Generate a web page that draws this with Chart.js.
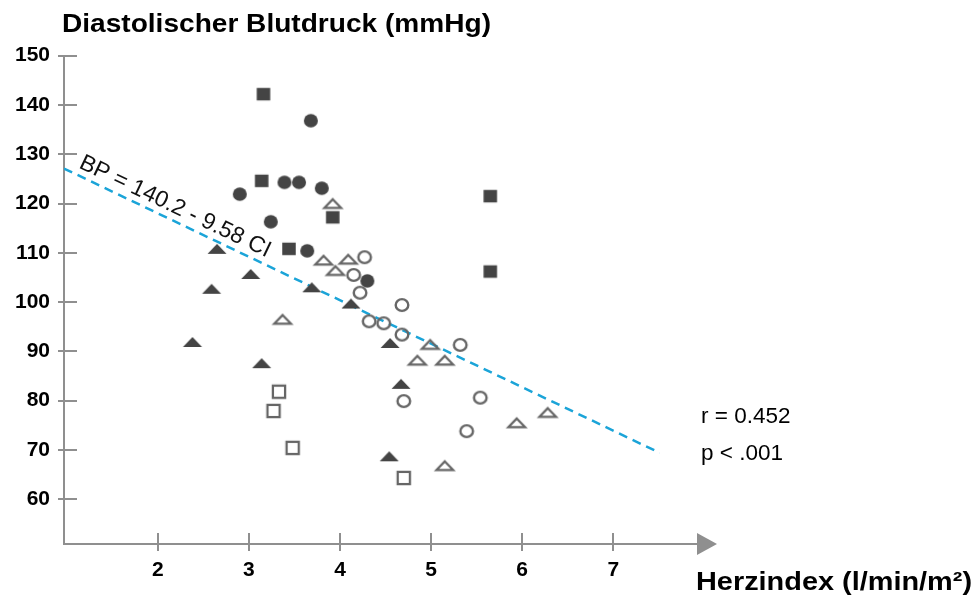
<!DOCTYPE html>
<html>
<head>
<meta charset="utf-8">
<script src="https://cdn.jsdelivr.net/npm/chart.js@4.4.1/dist/chart.umd.min.js"></script>
<style>
  html, body { margin: 0; padding: 0; background: #fff; }
  canvas { display: block; }
</style>
</head>
<body>
<canvas id="chart" width="975" height="601"></canvas>
<script>
// Herzindex (x) and diastolic pressure (y) for each marker group
const filledSquaresX = [3.16, 3.14, 3.92, 3.44, 5.65, 5.65];
const filledSquaresY = [142.2, 124.6, 117.2, 110.8, 121.5, 106.2];

const filledCirclesX = [3.68, 2.90, 3.39, 3.55, 3.80, 3.24, 3.64, 4.30];
const filledCirclesY = [136.8, 121.9, 124.3, 124.3, 123.1, 116.3, 110.4, 104.3];

const filledTrianglesX = [2.65, 3.02, 2.59, 2.38, 3.14, 3.69, 4.12, 4.55, 4.67, 4.54];
const filledTrianglesY = [110.8, 105.7, 102.7, 91.9, 87.6, 103.0, 99.7, 91.7, 83.4, 68.7];

const openSquaresX = [3.33, 3.27, 3.48, 4.70];
const openSquaresY = [81.8, 77.9, 70.4, 64.3];

const openCirclesX = [4.27, 4.15, 4.22, 4.32, 4.48, 4.68, 4.68, 5.32, 4.70, 5.54, 5.39];
const openCirclesY = [109.1, 105.5, 101.9, 96.1, 95.7, 99.4, 93.4, 91.3, 79.9, 80.6, 73.8];

const openTrianglesX = [3.92, 3.82, 4.09, 3.95, 3.37, 4.99, 4.85, 5.15, 5.94, 6.28, 5.15];
const openTrianglesY = [120.0, 108.5, 108.7, 106.4, 96.5, 91.4, 88.2, 88.2, 75.5, 77.6, 66.8];

// regression line as drawn
const fitX = [0.97, 7.51];
const fitY = [127.1, 69.4];

const xTicks = [2, 3, 4, 5, 6, 7];
const yTicks = [60, 70, 80, 90, 100, 110, 120, 130, 140, 150];

const axisColor = '#8f8f8f';
const darkMark = '#444444';
const openMark = '#666666';

function toPoints(xs, ys) {
    return xs.map((v, i) => ({ x: v, y: ys[i] }));
}

// small canvases used as point styles
function makeMarker(w, h, draw) {
    const c = document.createElement('canvas');
    c.width = 2 * Math.ceil((w + 4) / 2);
    c.height = 2 * Math.ceil((h + 4) / 2);
    const g = c.getContext('2d');
    g.translate(c.width / 2, c.height / 2);
    draw(g, w, h);
    return c;
}

const squareFilled = makeMarker(13.5, 12.5, (g, w, h) => {
    g.fillStyle = darkMark;
    g.fillRect(-w / 2, -h / 2, w, h);
});
const circleFilled = makeMarker(14, 13.5, (g, w, h) => {
    g.fillStyle = darkMark;
    g.beginPath();
    g.ellipse(0, 0, w / 2, h / 2, 0, 0, Math.PI * 2);
    g.fill();
});
const triangleFilled = makeMarker(19, 9.8, (g, w, h) => {
    g.fillStyle = darkMark;
    g.beginPath();
    g.moveTo(0, -h / 2);
    g.lineTo(w / 2, h / 2);
    g.lineTo(-w / 2, h / 2);
    g.closePath();
    g.fill();
});
const squareOpen = makeMarker(14.5, 14.5, (g, w, h) => {
    g.strokeStyle = openMark;
    g.lineWidth = 2.3;
    g.strokeRect(-w / 2 + 1.15, -h / 2 + 1.15, w - 2.3, h - 2.3);
});
const circleOpen = makeMarker(15, 14.2, (g, w, h) => {
    g.strokeStyle = openMark;
    g.lineWidth = 2.4;
    g.beginPath();
    g.ellipse(0, 0, w / 2 - 1.2, h / 2 - 1.2, 0, 0, Math.PI * 2);
    g.stroke();
});
const triangleOpen = makeMarker(21, 11, (g, w, h) => {
    g.strokeStyle = openMark;
    g.lineWidth = 2.3;
    g.lineJoin = 'miter';
    g.beginPath();
    g.moveTo(0, -h / 2 + 1.2);
    g.lineTo(w / 2 - 2.2, h / 2 - 1.2);
    g.lineTo(-w / 2 + 2.2, h / 2 - 1.2);
    g.closePath();
    g.stroke();
});

function markerSet(label, xs, ys, style) {
    return {
        label: label,
        data: toPoints(xs, ys),
        pointStyle: style,
        pointRadius: 7,
        pointHoverRadius: 7
    };
}

// text squeezed/stretched to the width measured in the picture
function fitText(ctx, text, x, y, font, width) {
    ctx.font = font;
    const sx = width / ctx.measureText(text).width;
    ctx.save();
    ctx.translate(x, y);
    ctx.scale(sx, 1);
    ctx.fillText(text, 0, 0);
    ctx.restore();
}

const decorations = {
    id: 'decorations',
    afterDraw(chart) {
        const { ctx, chartArea, scales: { x, y } } = chart;
        ctx.save();

        // tick marks crossing the axes
        ctx.strokeStyle = axisColor;
        ctx.lineWidth = 2;
        yTicks.forEach(v => {
            const py = Math.round(y.getPixelForValue(v));
            ctx.beginPath();
            ctx.moveTo(chartArea.left - 6, py);
            ctx.lineTo(chartArea.left + 13, py);
            ctx.stroke();
        });
        xTicks.forEach(v => {
            const px = Math.round(x.getPixelForValue(v));
            ctx.beginPath();
            ctx.moveTo(px, chartArea.bottom - 11);
            ctx.lineTo(px, chartArea.bottom + 7);
            ctx.stroke();
        });

        // arrow head on the x axis
        ctx.fillStyle = axisColor;
        ctx.beginPath();
        ctx.moveTo(chartArea.right - 1, chartArea.bottom - 11);
        ctx.lineTo(chartArea.right + 19, chartArea.bottom);
        ctx.lineTo(chartArea.right - 1, chartArea.bottom + 11);
        ctx.closePath();
        ctx.fill();

        // titles
        ctx.fillStyle = '#000';
        ctx.textAlign = 'left';
        ctx.textBaseline = 'alphabetic';
        fitText(ctx, 'Diastolischer Blutdruck (mmHg)', 62, 32, 'bold 25px "Liberation Sans", Arial, sans-serif', 429);
        fitText(ctx, 'Herzindex (l/min/m²)', 696, 590, 'bold 25px "Liberation Sans", Arial, sans-serif', 276);

        // statistics
        ctx.font = '22.5px "Liberation Sans", Arial, sans-serif';
        ctx.fillText('r = 0.452', 701, 423);
        ctx.fillText('p < .001', 701, 460);

        // equation along the fit line
        const x0 = x.getPixelForValue(fitX[0]), y0 = y.getPixelForValue(fitY[0]);
        const x1 = x.getPixelForValue(fitX[1]), y1 = y.getPixelForValue(fitY[1]);
        const ang = Math.atan2(y1 - y0, x1 - x0);
        const lx = 75;
        const ly = y0 + (lx - x0) * (y1 - y0) / (x1 - x0);
        const sx = lx + Math.sin(ang) * 7;
        const sy = ly - Math.cos(ang) * 7;
        ctx.save();
        ctx.translate(sx, sy);
        ctx.rotate(ang);
        ctx.font = '23px "Liberation Sans", Arial, sans-serif';
        ctx.fillStyle = '#111';
        ctx.fillText('BP = 140.2 - 9.58 CI', 0, 0);
        ctx.restore();

        ctx.restore();
    }
};

const tickFont = { family: '"Liberation Sans", Arial, sans-serif', size: 21, weight: 'bold' };

new Chart(document.getElementById('chart').getContext('2d'), {
    type: 'scatter',
    data: {
        datasets: [
            markerSet('filled squares', filledSquaresX, filledSquaresY, squareFilled),
            markerSet('filled circles', filledCirclesX, filledCirclesY, circleFilled),
            markerSet('filled triangles', filledTrianglesX, filledTrianglesY, triangleFilled),
            markerSet('open squares', openSquaresX, openSquaresY, squareOpen),
            markerSet('open circles', openCirclesX, openCirclesY, circleOpen),
            markerSet('open triangles', openTrianglesX, openTrianglesY, triangleOpen),
            {
                label: 'fit',
                data: toPoints(fitX, fitY),
                showLine: true,
                borderColor: '#1ba4d8',
                borderWidth: 2.5,
                borderDash: [9, 6],
                pointRadius: 0,
                pointHoverRadius: 0
            }
        ]
    },
    options: {
        responsive: false,
        animation: false,
        events: [],
        layout: { padding: { left: 0, top: 55.7, right: 277, bottom: 0 } },
        plugins: {
            legend: { display: false },
            title: { display: false },
            tooltip: { enabled: false }
        },
        scales: {
            x: {
                type: 'linear',
                min: 0.97,
                max: 7.93,
                afterBuildTicks: scale => { scale.ticks = xTicks.map(v => ({ value: v })); },
                afterFit: scale => { scale.height = 57; },
                grid: { display: false, drawTicks: false },
                border: { display: true, color: axisColor, width: 2 },
                ticks: { color: '#000', font: tickFont, padding: 14, maxRotation: 0 }
            },
            y: {
                type: 'linear',
                min: 50.9,
                max: 150,
                afterBuildTicks: scale => { scale.ticks = yTicks.map(v => ({ value: v })); },
                afterFit: scale => { scale.width = 64; },
                grid: { display: false, drawTicks: false },
                border: { display: true, color: axisColor, width: 2 },
                ticks: { color: '#000', font: tickFont, padding: 14 }
            }
        }
    },
    plugins: [decorations]
});
</script>
</body>
</html>
